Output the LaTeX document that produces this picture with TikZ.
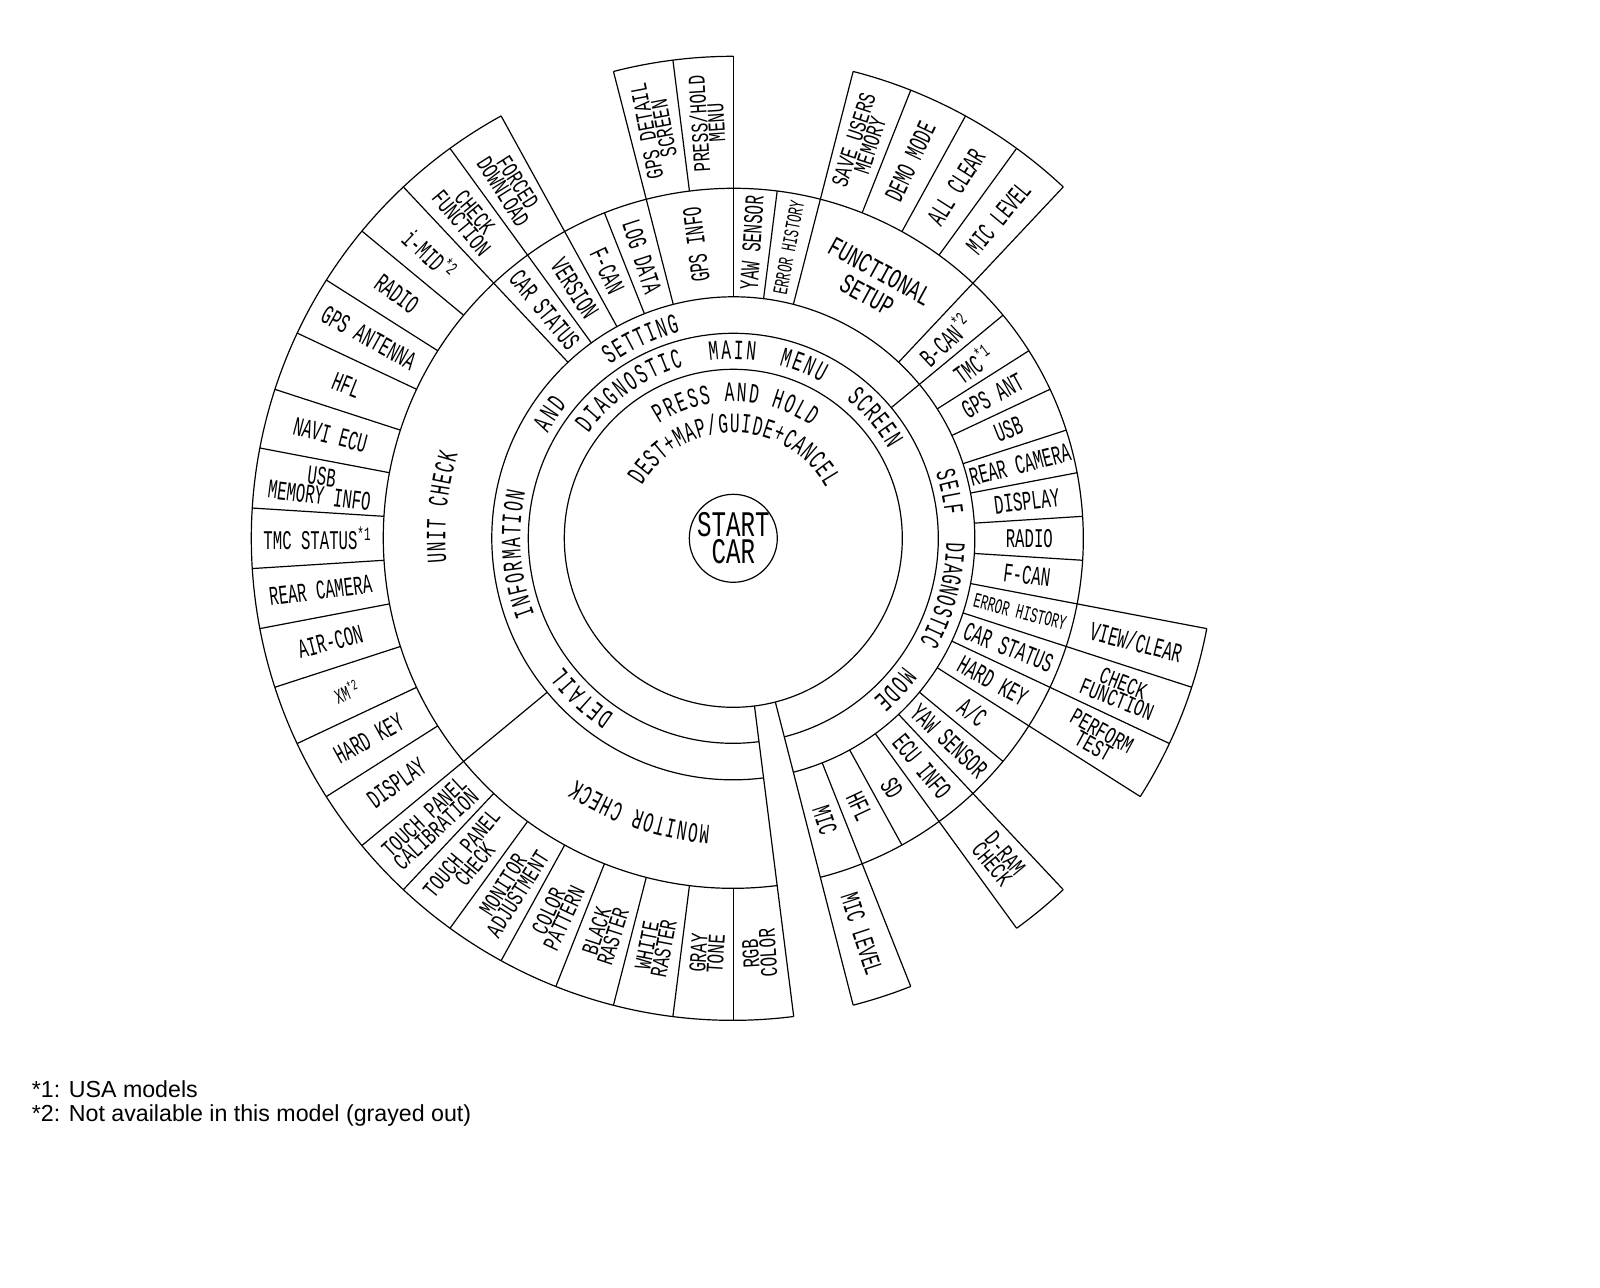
\documentclass[tikz,border=0pt]{standalone}
\usepackage{fontspec}
\setmainfont{Liberation Sans}
\newfontfamily\cadf{Liberation Mono}[FakeStretch=0.58]
\newfontfamily\cadw{Liberation Mono}[FakeStretch=0.67]
\usetikzlibrary{decorations.text}
\newcommand{\arcfont}{\cadf\fontsize{28}{28}\selectfont}
\newcommand{\arcword}[4]{%
  \path[decorate, decoration={text along path, text align={fit to path},
    text={|\arcfont|#4}}] (#2:#1) arc[start angle=#2, end angle=#3, radius=#1];}
\newcommand{\onode}[5]{\node[#1, rotate={-7.2*(#2)}] (#3) at ({7.2*(#2)}:#4) {#5};}
\newcommand{\inode}[5]{\node[#1, rotate={180-7.2*(#2)}] (#3) at ({7.2*(#2)}:#4) {#5};}
\begin{document}
\begin{tikzpicture}[x=1pt,y=-1pt,
  ln/.style={line width=1.2pt, black, line join=round},
  lab/.style={font=\cadf\fontsize{27}{19}\selectfont, align=center, inner sep=0pt},
  labs/.style={font=\cadw\fontsize{24}{16}\selectfont, align=center, inner sep=0pt},
  labe/.style={font=\cadf\fontsize{21}{15}\selectfont, align=center, inner sep=0pt},
  big/.style={font=\cadw\fontsize{28}{27}\selectfont, align=center, inner sep=0pt},
  note/.style={font=\fontsize{23.2}{26}\selectfont, anchor=base west, inner sep=0pt}]
\fill[white] (0,0) rectangle (1600,1287);
\useasboundingbox (0,0) rectangle (1600,1287);
\begin{scope}[shift={(733.3,538.3)}]
  \def\Ra{169} \def\Rb{205} \def\Rc{241.5} \def\Rd{350} \def\Re{482}
  % rings
  \draw[ln] (0,0) circle[radius=44];
  \draw[ln] (0,0) circle[radius=\Ra];
  \foreach \rr in {\Rb,\Rc,\Rd}
    \draw[ln] (82.8:\rr) arc[start angle=82.8, end angle=435.6, radius=\rr];
  \foreach \sa/\sb in {82.8/241.2, 255.6/270, 284.4/313.2, 10.8/32.4, 46.8/54, 68.4/75.6}
    \draw[ln] (\sa:\Re) arc[start angle=\sa, end angle=\sb, radius=\Re];
  % strip and dividers
  \draw[ln] (75.6:\Ra) -- (75.6:\Re);
  \draw[ln] (82.8:\Ra) -- (82.8:\Re);
  \draw[ln] (320.4:\Rb) -- (320.4:\Rd);
  \foreach \sa in {140.4,226.8,234,241.2,255.6,270,284.4,313.2,10.8,18,25.2,32.4,46.8,54,68.4}
    \draw[ln] (\sa:\Rc) -- (\sa:\Re);
  \foreach \sa in {248.4,277.2,327.6,334.8,342,349.2,356.4,3.6,39.6,61.2}
    \draw[ln] (\sa:\Rc) -- (\sa:\Rd);
  \foreach \sa in {262.8,291.6,298.8,306,147.6,154.8,162,169.2,176.4,183.6,190.8,198,205.2,212.4,219.6,90,97.2,104.4,111.6,118.8,126,133.2}
    \draw[ln] (\sa:\Rd) -- (\sa:\Re);

  % centre
  \node[font=\cadw\fontsize{36}{27}\selectfont, align=center, inner sep=0pt] (start) at (0,0) {START\\CAR};

  % arc texts
  \arcword{136.7}{-122.9}{-55.3}{PRESS AND HOLD}
  \arcword{105.5}{-149.9}{-28.7}{DEST+MAP/GUIDE+CANCEL}
  \arcword{179}{-144}{-106.2}{DIAGNOSTIC}
  \arcword{179}{-97.6}{-82.9}{MAIN}
  \arcword{179}{-75.2}{-60.6}{MENU}
  \arcword{179}{-50.8}{-29.9}{SCREEN}
  \arcword{213}{124}{143}{DETAIL}
  \arcword{213}{159}{192.6}{INFORMATION}
  \arcword{213}{209.5}{218.7}{AND}
  \arcword{213}{234.6}{255.5}{SETTING}
  \arcword{213}{-18}{-6.3}{SELF}
  \arcword{213}{1}{29.1}{DIAGNOSTIC}
  \arcword{213}{37.1}{48.9}{MODE}
  \arcword{288}{175.2}{196.9}{UNIT CHECK}
  \arcword{288}{94.6}{122.9}{MONITOR CHECK}

  % third ring, reading outward
  \onode{lab}{36.5}{s36}{296}{GPS INFO}
  \onode{lab}{38}{s38}{296}{YAW SENSOR}
  \onode{labe}{39}{s39}{296}{ERROR HISTORY}
  \node[big, rotate=-28.8] (fs) at (298.8:291) {FUNCTIONAL\\SETUP};
  \onode{lab}{44}{s44}{290}{B-CAN\textsuperscript{*2}}
  \onode{lab}{45}{s45}{296}{TMC\textsuperscript{*1}}
  \onode{lab}{46}{s46}{296}{GPS ANT}
  \onode{lab}{47}{s47}{296}{USB}
  \onode{lab}{48}{s48}{296}{REAR CAMERA}
  \onode{lab}{49}{s49}{296}{DISPLAY}
  \onode{lab}{0}{s0}{296}{RADIO}
  \onode{lab}{1}{s1}{296}{F-CAN}
  \onode{labe}{2}{s2}{296}{ERROR HISTORY}
  \onode{lab}{3}{s3}{296}{CAR STATUS}
  \onode{lab}{4}{s4}{296}{HARD KEY}
  \onode{lab}{5}{s5}{296}{A/C}
  \onode{lab}{6}{s6}{296}{YAW SENSOR}
  \onode{lab}{7}{s7}{296}{ECU INFO}
  \onode{lab}{8}{s8}{296}{SD}
  \onode{lab}{9}{s9}{296}{HFL}
  \onode{lab}{10}{s10}{296}{MIC}
  % third ring, reading inward
  \inode{lab}{32}{s32}{296}{CAR STATUS}
  \inode{lab}{33}{s33}{296}{VERSION}
  \inode{lab}{34}{s34}{296}{F-CAN}
  \inode{lab}{35}{s35}{296}{LOG DATA}

  % outer ring, reading outward
  \onode{lab}{2}{t2}{416}{VIEW/CLEAR}
  \onode{labs}{3}{t3}{416}{CHECK\\FUNCTION}
  \onode{labs}{4}{t4}{416}{PERFORM\\TEST}
  \onode{labs}{7}{t7}{416}{D-RAM\\CHECK}
  \onode{lab}{10}{t10}{416}{MIC LEVEL}
  \onode{labs}{36}{t36}{416}{GPS DETAIL\\SCREEN}
  \onode{labs}{37}{t37}{416}{PRESS/HOLD\\MENU}
  \onode{labs}{40}{t40}{416}{SAVE USERS\\MEMORY}
  \onode{lab}{41}{t41}{416}{DEMO MODE}
  \onode{lab}{42}{t42}{416}{ALL CLEAR}
  \onode{lab}{43}{t43}{416}{MIC LEVEL}
  % outer ring, reading inward
  \inode{labs}{12}{t12}{416}{RGB\\COLOR}
  \inode{labs}{13}{t13}{416}{GRAY\\TONE}
  \inode{labs}{14}{t14}{416}{WHITE\\RASTER}
  \inode{labs}{15}{t15}{416}{BLACK\\RASTER}
  \inode{labs}{16}{t16}{416}{COLOR\\PATTERN}
  \inode{labs}{17}{t17}{416}{MONITOR\\ADJUSTMENT}
  \inode{labs}{18}{t18}{416}{TOUCH PANEL\\CHECK}
  \inode{labs}{19}{t19}{416}{TOUCH PANEL\\CALIBRATION}
  \inode{lab}{20}{t20}{416}{DISPLAY}
  \inode{lab}{21}{t21}{416}{HARD KEY}
  \inode{labe}{22}{t22}{416}{XM\textsuperscript{*2}}
  \inode{lab}{23}{t23}{416}{AIR-CON}
  \inode{lab}{24}{t24}{416}{REAR CAMERA}
  \inode{lab}{25}{t25}{416}{TMC STATUS\textsuperscript{*1}}
  \inode{lab}{26}{t26}{416}{USB\\MEMORY INFO}
  \inode{lab}{27}{t27}{416}{NAVI ECU}
  \inode{lab}{28}{t28}{416}{HFL}
  \inode{lab}{29}{t29}{416}{GPS ANTENNA}
  \inode{lab}{30}{t30}{416}{RADIO}
  \inode{lab}{31}{t31}{416}{i-MID\textsuperscript{*2}}
  \inode{labs}{32}{t32}{416}{CHECK\\FUNCTION}
  \inode{labs}{33}{t33}{416}{FORCED\\DOWNLOAD}
\end{scope}
\node[note] (n1) at (31.7,1097) {*1: USA models};
\node[note] (n2) at (31.7,1121.5) {*2: Not available in this model (grayed out)};
\end{tikzpicture}
\end{document}
